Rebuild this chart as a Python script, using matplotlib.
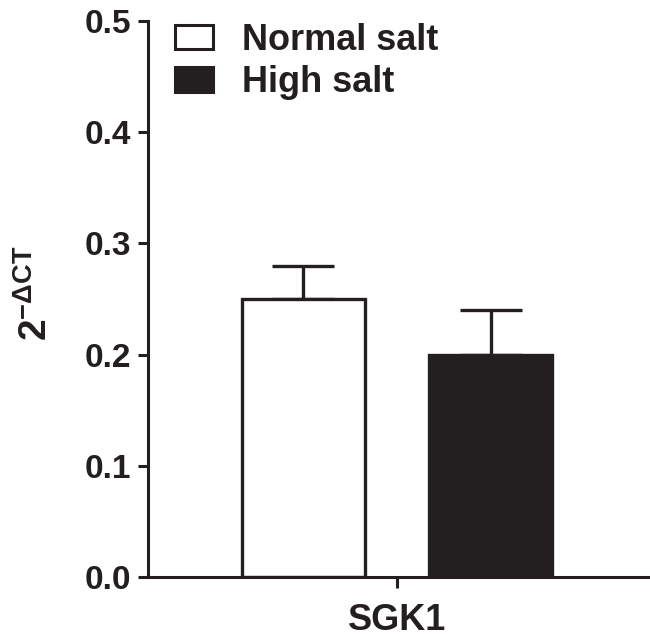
import matplotlib.pyplot as plt
from matplotlib.patches import Patch

# values
groups = ["Normal salt", "High salt"]
means = [0.25, 0.20]
sem = [0.03, 0.04]
gene = "SGK1"

ink = "#231f20"
plt.rcParams['font.family'] = ['Liberation Sans', 'DejaVu Sans']
plt.rcParams['font.weight'] = 'bold'
plt.rcParams['mathtext.fontset'] = 'custom'
plt.rcParams['mathtext.bf'] = 'Liberation Sans:bold'
plt.rcParams['mathtext.rm'] = 'Liberation Sans:bold'
plt.rcParams['mathtext.default'] = 'bf'

fig = plt.figure(figsize=(6.5, 6.43), dpi=100)
ax = fig.add_axes([0.2277, 0.1026, 0.7723, 0.8647])

xpos = [-0.5, 0.5]
faces = ["white", ink]
for x, m, e, fc in zip(xpos, means, sem, faces):
    ax.bar(x, m, width=0.655, color=fc, edgecolor=ink, linewidth=2.4, zorder=2)
    ax.errorbar(x, m, yerr=[[0], [e]], fmt='none', ecolor=ink,
                elinewidth=2.4, capsize=22, capthick=2.4, zorder=1)

ax.set_xlim(-1.33, 1.35)
ax.set_ylim(0, 0.5)
ax.set_yticks([0.0, 0.1, 0.2, 0.3, 0.4, 0.5])
ax.set_yticklabels(["0.0", "0.1", "0.2", "0.3", "0.4", "0.5"])
ax.set_xticks([0])
ax.set_xticklabels([gene])

for s in ['top', 'right']:
    ax.spines[s].set_visible(False)
for s in ['left', 'bottom']:
    ax.spines[s].set_linewidth(2.2)
    ax.spines[s].set_color(ink)
ax.tick_params(axis='y', length=7, width=2.2, color=ink, labelsize=24, pad=5, labelcolor=ink)
ax.tick_params(axis='x', length=8, width=2.2, color=ink, labelsize=26, pad=11, labelcolor=ink)

ax.set_ylabel(r"$2^{-\Delta CT}$", fontsize=28, color=ink)
ax.yaxis.set_label_coords(-0.186, 0.51)

handles = [Patch(facecolor="white", edgecolor=ink, linewidth=2.2),
           Patch(facecolor=ink, edgecolor=ink, linewidth=2.2)]
ax.legend(handles, groups, loc='upper left', bbox_to_anchor=(-0.01, 1.055),
          frameon=False, prop={'size': 26, 'weight': 'bold'},
          handlelength=1.05, handleheight=0.65, handletextpad=0.8,
          labelspacing=0.2, labelcolor=ink)

fig.savefig("out.png", dpi=100)
